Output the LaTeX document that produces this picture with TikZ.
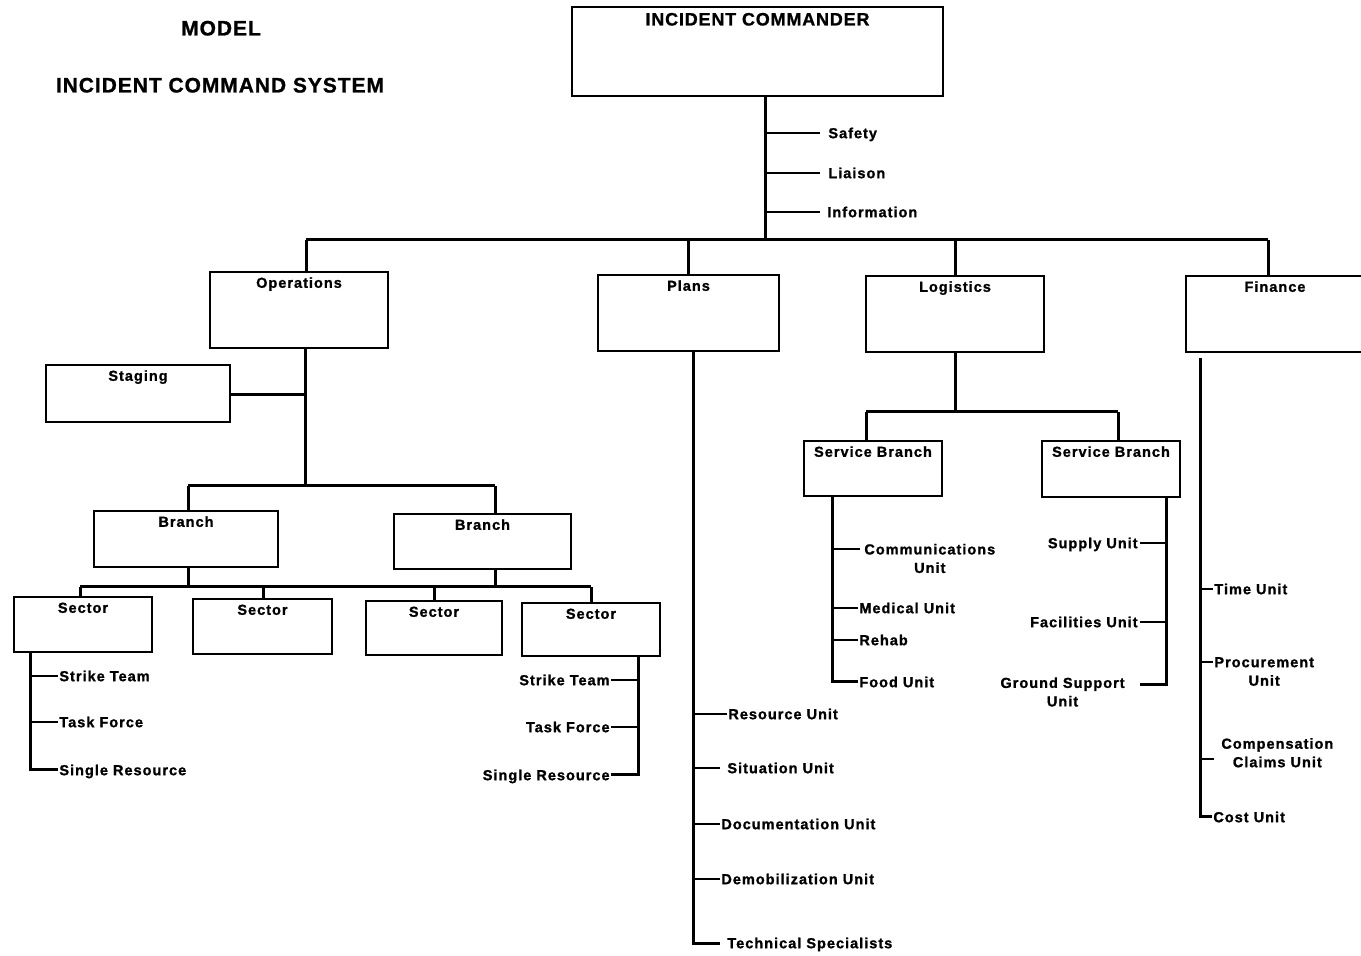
\documentclass[tikz,border=0pt]{standalone}
\usepackage{fontspec}
\newfontfamily\lblf{Liberation Sans Bold}[LetterSpace=7, FakeBold=1.2]
\newfontfamily\ttlf{Liberation Sans Bold}[LetterSpace=4.5, FakeBold=1]
\usetikzlibrary{fit}
\begin{document}
\begin{tikzpicture}[x=0.5pt,y=-0.5pt,
  box/.style={draw, line width=1.3pt, inner sep=0pt},
  inlbl/.style={font=\lblf\fontsize{7.25}{9}\selectfont, inner sep=0pt, anchor=north, text height=5.2pt, text depth=0pt, yshift=-3.15pt},
  iclbl/.style={font=\ttlf\fontsize{9}{10}\selectfont, inner sep=0pt, anchor=north, text height=6.45pt, text depth=0pt, yshift=-3.25pt},
  ttl/.style={font=\ttlf\fontsize{10.5}{12}\selectfont, inner sep=0pt, text height=7.5pt, text depth=0pt},
  unit/.style={font=\lblf\fontsize{7.25}{9}\selectfont, inner ysep=0pt, inner xsep=0.5pt, text height=5.2pt, text depth=0pt},
  unittwo/.style={font=\lblf\fontsize{7.25}{9.25}\selectfont, inner ysep=0pt, inner xsep=0.5pt, align=center},
  conn/.style={line width=1.5pt},
  tick/.style={line width=1.1pt},
]
\useasboundingbox (0,0) rectangle (1361,956);

% titles
\node[ttl] (t1) at (221,28) {MODEL};
\node[ttl] (t2) at (220,85) {INCIDENT COMMAND SYSTEM};

% boxes
\node[box, fit={(572,7) (943,96)}, label={[iclbl]north:INCIDENT COMMANDER}] (ic) {};
\node[box, fit={(210,272) (388,348)}, label={[inlbl]north:Operations}] (ops) {};
\node[box, fit={(46,365) (230,422)}, label={[inlbl]north:Staging}] (stg) {};
\node[box, fit={(598,275) (779,351)}, label={[inlbl]north:Plans}] (plans) {};
\node[box, fit={(866,276) (1044,352)}, label={[inlbl]north:Logistics}] (log) {};
\node[box, fit={(1186,276) (1372,352)}, label={[inlbl,xshift=-2pt]north:Finance}] (fin) {};
\node[box, fit={(94,511) (278,567)}, label={[inlbl]north:Branch}] (bra) {};
\node[box, fit={(394,514) (571,569)}, label={[inlbl]north:Branch}] (brb) {};
\node[box, fit={(14,597) (152,652)}, label={[inlbl]north:Sector}] (sec1) {};
\node[box, fit={(193,599) (332,654)}, label={[inlbl]north:Sector}] (sec2) {};
\node[box, fit={(366,601) (502,655)}, label={[inlbl]north:Sector}] (sec3) {};
\node[box, fit={(522,603) (660,656)}, label={[inlbl]north:Sector}] (sec4) {};
\node[box, fit={(804,441) (942,496)}, label={[inlbl]north:Service Branch}] (sb1) {};
\node[box, fit={(1042,441) (1180,497)}, label={[inlbl]north:Service Branch}] (sb2) {};

% command staff
\node[unit, anchor=west, inner xsep=4pt] (safety) at (820,133) {Safety};
\node[unit, anchor=west, inner xsep=4pt] (liaison) at (820,173) {Liaison};
\node[unit, anchor=west, inner xsep=3.5pt] (info) at (820,212) {Information};

% connectors top
\coordinate (icj) at (765,240);
\draw[conn] (ic.south -| icj) -- (icj);
\draw[tick] (icj |- safety.west) -- (safety.west);
\draw[tick] (icj |- liaison.west) -- (liaison.west);
\draw[tick] (icj |- info.west) -- (info.west);
\coordinate (b1) at (306,240);
\coordinate (b2) at (688,240);
\coordinate (b3) at (955,240);
\coordinate (b4) at (1268,240);
\draw[conn] (b1) -- (b4);
\draw[conn] (b1) -- (b1 |- ops.north);
\draw[conn] (b2) -- (b2 |- plans.north);
\draw[conn] (b3) -- (b3 |- log.north);
\draw[conn] (b4) -- (b4 |- fin.north);

% operations
\coordinate (oj) at (305,486);
\coordinate (sj) at (305,395);
\draw[conn] (ops.south -| oj) -- (oj);
\draw[conn] (sj) -- (sj -| stg.east);
\coordinate (br1) at (188,486);
\coordinate (br2) at (495,486);
\draw[conn] (br1) -- (br2);
\draw[conn] (br1) -- (br1 |- bra.north);
\draw[conn] (br2) -- (br2 |- brb.north);
\coordinate (s1) at (80,587);
\coordinate (s2) at (263,587);
\coordinate (s3) at (434,587);
\coordinate (s4) at (591,587);
\draw[conn] (s1) -- (s4);
\draw[conn] (bra.south -| br1) -- (br1 |- s1);
\draw[conn] (brb.south -| br2) -- (br2 |- s1);
\draw[conn] (s1) -- (s1 |- sec1.north);
\draw[conn] (s2) -- (s2 |- sec2.north);
\draw[conn] (s3) -- (s3 |- sec3.north);
\draw[conn] (s4) -- (s4 |- sec4.north);

% left sector resources
\node[unit, anchor=west] (lst) at (58,676) {Strike Team};
\node[unit, anchor=west] (ltf) at (58,722) {Task Force};
\node[unit, anchor=west] (lsr) at (58,770) {Single Resource};
\coordinate (lv) at (30,652);
\draw[conn] (sec1.south -| lv) |- (lsr.west);
\draw[tick] (lv |- lst.west) -- (lst.west);
\draw[tick] (lv |- ltf.west) -- (ltf.west);

% right sector resources
\node[unit, anchor=east] (rst) at (611,680) {Strike Team};
\node[unit, anchor=east] (rtf) at (611,727) {Task Force};
\node[unit, anchor=east] (rsr) at (611,775) {Single Resource};
\coordinate (rv) at (638,656);
\draw[conn] (sec4.south -| rv) |- (rsr.east);
\draw[tick] (rv |- rst.east) -- (rst.east);
\draw[tick] (rv |- rtf.east) -- (rtf.east);

% plans units
\node[unit, anchor=west] (res) at (727,714) {Resource Unit};
\node[unit, anchor=west, inner xsep=3.5pt] (sit) at (720,768) {Situation Unit};
\node[unit, anchor=west] (doc) at (720,824) {Documentation Unit};
\node[unit, anchor=west] (demob) at (720,879) {Demobilization Unit};
\node[unit, anchor=west, inner xsep=3.5pt] (tech) at (720,943) {Technical Specialists};
\coordinate (pv) at (693,351);
\draw[conn] (plans.south -| pv) |- (tech.west);
\draw[tick] (pv |- res.west) -- (res.west);
\draw[tick] (pv |- sit.west) -- (sit.west);
\draw[tick] (pv |- doc.west) -- (doc.west);
\draw[tick] (pv |- demob.west) -- (demob.west);

% logistics
\coordinate (lj) at (955,412);
\draw[conn] (log.south -| lj) -- (lj);
\coordinate (l1) at (866,412);
\coordinate (l2) at (1118,412);
\draw[conn] (l1) -- (l2);
\draw[conn] (l1) -- (l1 |- sb1.north);
\draw[conn] (l2) -- (l2 |- sb2.north);

% service branch 1
\node[unittwo, anchor=north west, inner xsep=2pt] (comm) at (860,543.5) {Communications\\Unit};
\node[unit, anchor=west] (med) at (858,608) {Medical Unit};
\node[unit, anchor=west] (rehab) at (858,640) {Rehab};
\node[unit, anchor=west] (food) at (858,682) {Food Unit};
\coordinate (v1) at (832,496);
\coordinate (c1) at (832,549);
\draw[conn] (sb1.south -| v1) |- (food.west);
\draw[tick] (c1) -- (c1 -| comm.west);
\draw[tick] (v1 |- med.west) -- (med.west);
\draw[tick] (v1 |- rehab.west) -- (rehab.west);

% service branch 2
\node[unit, anchor=east, inner xsep=1pt] (sup) at (1140,543) {Supply Unit};
\node[unit, anchor=east, inner xsep=1pt] (fac) at (1140,622) {Facilities Unit};
\node[unittwo, anchor=north east, inner xsep=7.5pt] (gs) at (1140,677) {Ground Support\\Unit};
\coordinate (v2) at (1166,497);
\coordinate (g1) at (1166,685);
\draw[conn] (sb2.south -| v2) -- (g1) -- (g1 -| gs.east);
\draw[tick] (v2 |- sup.east) -- (sup.east);
\draw[tick] (v2 |- fac.east) -- (fac.east);

% finance
\node[unit, anchor=west] (time) at (1213,589) {Time Unit};
\node[unittwo, anchor=north west] (proc) at (1213,656.8) {Procurement\\Unit};
\node[unittwo, anchor=north west, inner xsep=3.5pt] (comp) at (1214,737.8) {Compensation\\Claims Unit};
\node[unit, anchor=west] (cost) at (1212,817) {Cost Unit};
\coordinate (fv) at (1200,358);
\coordinate (pc) at (1200,662);
\coordinate (cc) at (1200,759);
\draw[conn] (fv) |- (cost.west);
\draw[tick] (fv |- time.west) -- (time.west);
\draw[tick] (pc) -- (pc -| proc.west);
\draw[tick] (cc) -- (cc -| comp.west);
\end{tikzpicture}
\end{document}
